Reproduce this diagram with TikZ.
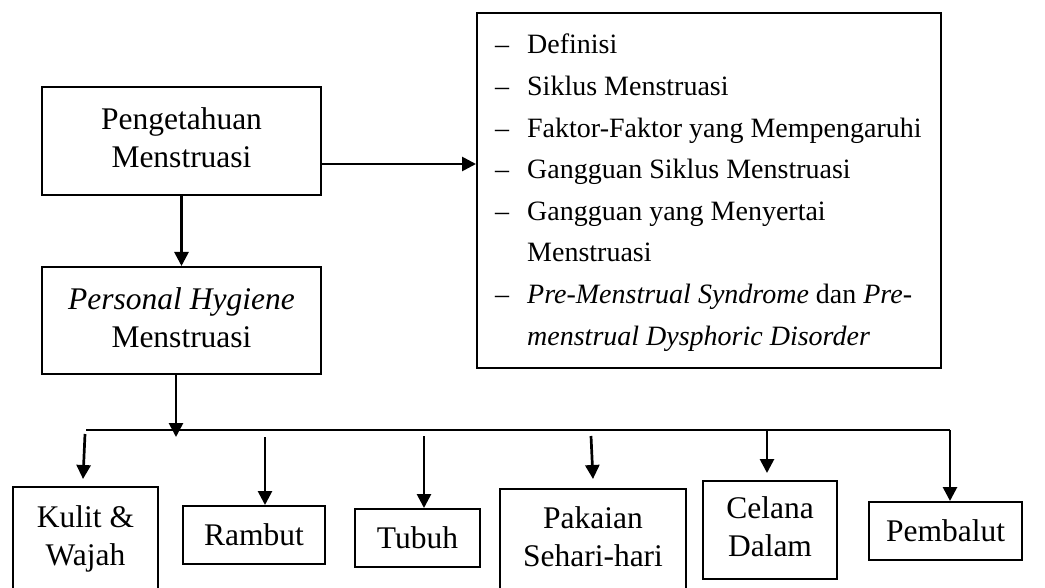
\documentclass[tikz,border=0pt]{standalone}
\usepackage{fontspec}
\setmainfont{Liberation Serif}
\usetikzlibrary{arrows.meta}
\begin{document}
\begin{tikzpicture}[x=1pt,y=-1pt,
  box/.style={draw, line width=2pt, inner sep=0pt, align=center,
    font=\fontsize{31.5pt}{38pt}\selectfont},
  arr/.style={line width=2.7pt, -{Triangle[length=14pt,width=14pt]}},
  item/.style={inner sep=0pt, anchor=base west, font=\fontsize{28pt}{38pt}\selectfont},
  bus/.style={line width=2pt}]
\useasboundingbox (0,0) rectangle (1045,588);

% upper boxes
\node[box, minimum width=279pt, minimum height=108pt] (pm) at (181.5,141)
  {\strut Pengetahuan\\\strut Menstruasi};
\node[box, minimum width=279pt, minimum height=107pt] (ph) at (181.5,320.5)
  {\strut\textit{Personal Hygiene}\\\strut Menstruasi};
\node[draw, line width=2pt, minimum width=464pt, minimum height=355pt] (rb) at (709,190.5) {};

% list in the right box
\node[item] (i1) at (495,54)  {\makebox[32pt][l]{–}Definisi};
\node[item] (i2) at (495,96)  {\makebox[32pt][l]{–}Siklus Menstruasi};
\node[item] (i3) at (495,138) {\makebox[32pt][l]{–}Faktor-Faktor yang Mempengaruhi};
\node[item] (i4) at (495,179) {\makebox[32pt][l]{–}Gangguan Siklus Menstruasi};
\node[item] (i5) at (495,221) {\makebox[32pt][l]{–}Gangguan yang Menyertai};
\node[item] (i6) at (527,262) {Menstruasi};
\node[item] (i7) at (495,304) {\makebox[32pt][l]{–}\textit{Pre-Menstrual Syndrome} dan \textit{Pre-}};
\node[item] (i8) at (527,345) {\textit{menstrual Dysphoric Disorder}};

% lower boxes
\node[box, minimum width=145pt, minimum height=104pt] (kul) at (85.5,539)
  {\strut Kulit \&\\\strut Wajah};
\node[box, minimum width=142pt, minimum height=58pt] (ram) at (254,535) {Rambut};
\node[box, minimum width=125pt, minimum height=58pt] (tub) at (417.5,538) {Tubuh};
\node[box, minimum width=186pt, minimum height=101pt] (pak) at (593,539.5)
  {\strut Pakaian\\\strut Sehari-hari};
\node[box, minimum width=134pt, minimum height=98pt] (cel) at (770,530)
  {\strut Celana\\\strut Dalam};
\node[box, minimum width=153pt, minimum height=58pt] (pem) at (945.5,531) {Pembalut};

% connectors
\draw[arr] (pm) -- (ph);
\draw[arr] ([yshift=-23pt]pm.east) -- ([yshift=-23pt]pm.east -| rb.west);
\draw[arr] ([xshift=-5.5pt]ph.south) -- ++(0,62);

\coordinate (busL) at (86,430);
\coordinate (busR) at (950,430);
\draw[bus] (busL) -- (busR);
\draw[arr] (busR) -- (busR |- pem.north);

\coordinate (c5) at (767,430);
\draw[arr] (c5) -- ([yshift=7pt]cel.north -| c5);

\coordinate (k0) at (85,434);
\coordinate (k1) at (83,479);
\draw[arr] (k0) -- (k1);

\coordinate (r0) at (265,437);
\draw[arr] (r0) -- (r0 |- ram.north);

\coordinate (t0) at (424,436);
\draw[arr] (t0) -- (t0 |- tub.north);

\coordinate (p0) at (591,436);
\coordinate (p1) at (593,479);
\draw[arr] (p0) -- (p1);
\end{tikzpicture}
\end{document}
